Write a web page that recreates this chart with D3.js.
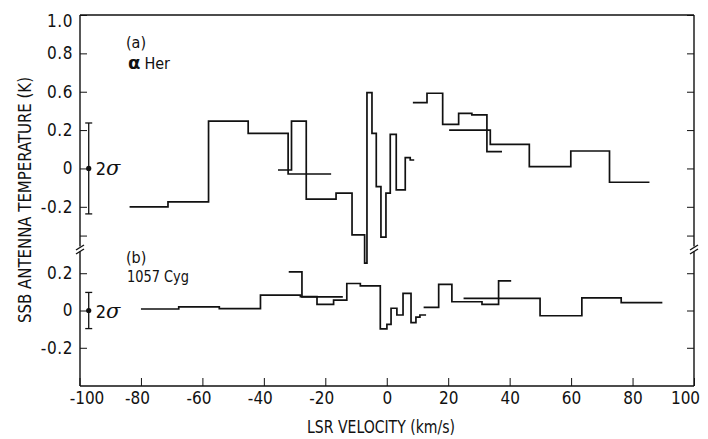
<!DOCTYPE html>
<html><head><meta charset="utf-8">
<script src="https://cdn.jsdelivr.net/npm/d3@7"></script>
<style>
body{margin:0;background:#fff;}
text{font-family:"Liberation Sans Narrow","DejaVu Sans Condensed","Liberation Sans",sans-serif;fill:#111;}
</style></head>
<body>
<svg id="c" width="708" height="439"></svg>
<script>
// ---- data (LSR velocity bin edges in km/s, antenna temperature in K) ----
// Panel (a) alpha Her — four overlapping spectra
const herA_edges = [-83.7, -71.2, -58, -45.1, -32.1, -18.1];
const herA_temp  = [-0.2, -0.174, 0.247, 0.183, -0.029];
const herB_edges = [-35.4, -31, -26.2, -16.5, -11.3, -7.2, -6.44, -4.81, -3.41, -1.89, -0.26, 1.14, 3.09, 6.02, 7.64, 8.94];
const herB_temp  = [-0.008, 0.247, -0.16, -0.129, -0.346, -0.494, 0.395, 0.183, -0.095, -0.358, -0.129, 0.178, -0.112, 0.056, 0.044];
const herC_edges = [8.5, 13.1, 18.2, 23.4, 27.7, 32.6, 37.5];
const herC_temp  = [0.343, 0.392, 0.23, 0.287, 0.279, 0.088];
const herD_edges = [20.3, 33.7, 46.4, 59.9, 72.5, 85.5];
const herD_temp  = [0.2, 0.126, 0.009, 0.091, -0.072];
// Panel (b) 1057 Cyg
const cygA_edges = [-80, -67.7, -54.5, -41.1, -28.1, -22.7, -17.3, -13, -8.6, -2.1, 0.05, 1.4, 3.3, 5.3, 7.9, 9.5, 10.8, 12.8];
const cygA_temp  = [0.008, 0.019, 0.01, 0.083, 0.074, 0.033, 0.056, 0.145, 0.132, -0.099, -0.074, 0.012, -0.024, 0.092, -0.065, -0.036, -0.024];
const cygB_edges = [-31.9, -27.6, -14.3];
const cygB_temp  = [0.207, 0.073];
const cygC_edges = [12, 16.9, 21.2, 31, 36.4, 40.5];
const cygC_temp  = [0.017, 0.14, 0.047, 0.033, 0.159];
const cygD_edges = [25, 49.9, 63.5, 76.3, 89.7];
const cygD_temp  = [0.065, -0.028, 0.068, 0.042];
// 2-sigma error bars
const sigmaVel = -97;
const sigmaA = 0.237;
const sigmaB = 0.097;
// ticks
const xTicks = [-100, -80, -60, -40, -20, 0, 20, 40, 60, 80, 100];
const yTicksA = [0.8, 0.6, 0.4, 0.2, 0, -0.2, -0.35];
const yLabelsA = ["1.0", "0.8", "0.6", "0.2", "0", "-0.2", ""];
const yTicksB = [0.2, 0, -0.2];
const yLabelsB = ["0.2", "0", "-0.2"];

// ---- layout ----
const L = 80, R = 694, T = 15, B = 386, BRK = 249;
const svg = d3.select("#c");
const x = d3.scaleLinear([-100, 100], [79.5, 694]);
const yA = d3.scaleLinear([-0.42, 0.8], [BRK, T]);
const yB = d3.scaleLinear([-0.405, 0.33], [B, BRK]);

const ink = "#111";
// frame
const g = svg.append("g").attr("stroke", ink).attr("stroke-width", 1.4).attr("fill", "none");
g.append("line").attr("x1", L).attr("x2", R).attr("y1", T).attr("y2", T);
g.append("line").attr("x1", L).attr("x2", R).attr("y1", B).attr("y2", B);
[L, R].forEach(px => {
  g.append("line").attr("x1", px).attr("x2", px).attr("y1", T).attr("y2", BRK - 2.5);
  g.append("line").attr("x1", px).attr("x2", px).attr("y1", BRK + 2.5).attr("y2", B);
  g.append("line").attr("x1", px - 4).attr("x2", px + 4).attr("y1", BRK + 1).attr("y2", BRK - 4);
  g.append("line").attr("x1", px - 4).attr("x2", px + 4).attr("y1", BRK + 5).attr("y2", BRK);
});

// x axis
const xa = svg.append("g").attr("transform", `translate(0,${B})`)
  .call(d3.axisBottom(x).tickValues(xTicks).tickSize(-8).tickPadding(6).tickFormat(d => String(d)));
xa.select(".domain").remove();
xa.selectAll(".tick line").attr("stroke", ink).attr("stroke-width", 1);
xa.selectAll(".tick text").attr("font-size", 17).attr("fill", ink)
  .attr("dx", d => d === -100 ? 7 : d === 100 ? -9 : d < 0 ? -4 : 0);

// y axes
function yAxis(scale, ticks, labels) {
  const l = svg.append("g").attr("transform", `translate(${L},0)`)
    .call(d3.axisLeft(scale).tickValues(ticks).tickSize(-7).tickPadding(7)
      .tickFormat((d, i) => labels[i]));
  l.select(".domain").remove();
  l.selectAll(".tick line").attr("stroke", ink).attr("stroke-width", 1);
  l.selectAll(".tick text").attr("font-size", 17).attr("fill", ink).attr("letter-spacing", 0.6);
  const r = svg.append("g").attr("transform", `translate(${R},0)`)
    .call(d3.axisRight(scale).tickValues(ticks).tickSize(-7).tickFormat(""));
  r.select(".domain").remove();
  r.selectAll(".tick line").attr("stroke", ink).attr("stroke-width", 1);
  return l;
}
const la = yAxis(yA, yTicksA, yLabelsA);
la.selectAll(".tick text").filter(d => d === 0.8).attr("dy", "0.7em");
yAxis(yB, yTicksB, yLabelsB);

// step spectra
function step(edges, vals, ys) {
  const pts = vals.map((v, i) => [edges[i], v]);
  pts.push([edges[edges.length - 1], vals[vals.length - 1]]);
  const line = d3.line().x(d => x(d[0])).y(d => ys(d[1])).curve(d3.curveStepAfter);
  svg.append("path").attr("d", line(pts)).attr("fill", "none")
    .attr("stroke", ink).attr("stroke-width", 1.7);
}
step(herA_edges, herA_temp, yA);
step(herB_edges, herB_temp, yA);
step(herC_edges, herC_temp, yA);
step(herD_edges, herD_temp, yA);
step(cygA_edges, cygA_temp, yB);
step(cygB_edges, cygB_temp, yB);
step(cygC_edges, cygC_temp, yB);
step(cygD_edges, cygD_temp, yB);

// 2 sigma bars
function sigmaBar(ys, s) {
  const cx = x(sigmaVel);
  const e = svg.append("g").attr("stroke", ink).attr("stroke-width", 1.3);
  e.append("line").attr("x1", cx).attr("x2", cx).attr("y1", ys(s)).attr("y2", ys(-s));
  e.append("line").attr("x1", cx - 3.5).attr("x2", cx + 3.5).attr("y1", ys(s)).attr("y2", ys(s));
  e.append("line").attr("x1", cx - 3.5).attr("x2", cx + 3.5).attr("y1", ys(-s)).attr("y2", ys(-s));
  svg.append("circle").attr("cx", cx).attr("cy", ys(0)).attr("r", 2.6).attr("fill", ink);
  const t = svg.append("text").attr("x", cx + 7).attr("y", ys(0) + 7).attr("font-size", 18);
  t.append("tspan").text("2");
  t.append("tspan").attr("font-family", "DejaVu Serif").attr("font-style", "italic").attr("font-size", 21).text("σ");
}
sigmaBar(yA, sigmaA);
sigmaBar(yB, sigmaB);

// panel labels
svg.append("text").attr("x", 126).attr("y", 48).attr("font-size", 16).text("(a)");
const her = svg.append("text").attr("x", 128).attr("y", 69).attr("font-size", 16);
her.append("tspan").attr("font-family", "DejaVu Sans").attr("font-weight", "bold").attr("font-size", 18).text("α");
her.append("tspan").attr("dx", 4).text("Her");
svg.append("text").attr("x", 126).attr("y", 263).attr("font-size", 16).text("(b)");
svg.append("text").attr("x", 127).attr("y", 282).attr("font-size", 16)
  .attr("textLength", 62).attr("lengthAdjust", "spacingAndGlyphs").text("1057 Cyg");

// axis titles
svg.append("text").attr("transform", "translate(31,200) rotate(-90)")
  .attr("text-anchor", "middle").attr("font-size", 18)
  .attr("textLength", 246).attr("lengthAdjust", "spacingAndGlyphs")
  .text("SSB ANTENNA TEMPERATURE (K)");
svg.append("text").attr("x", 381).attr("y", 433).attr("text-anchor", "middle")
  .attr("font-size", 17).attr("textLength", 148).attr("lengthAdjust", "spacingAndGlyphs")
  .text("LSR VELOCITY (km/s)");
</script>
</body></html>
